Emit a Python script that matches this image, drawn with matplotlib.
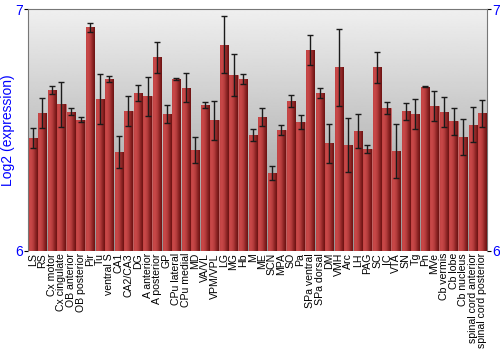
import matplotlib
matplotlib.use("Agg")
import matplotlib.pyplot as plt
import numpy as np

regions = ["LS", "RS", "Cx motor", "Cx cingulate", "OB anterior", "OB posterior",
           "Pir", "Tu", "ventral S", "CA1", "CA2/CA3", "DG", "A anterior",
           "A posterior", "GP", "CPu lateral", "CPu medial", "MD", "VA/VL",
           "VPM/VPL", "LG", "MG", "Hb", "M", "ME", "SCN", "MPA", "SO", "Pa",
           "SPa ventral", "SPa dorsal", "DM", "VMH", "Arc", "LH", "PAG", "SC",
           "IC", "VTA", "SN", "Tg", "Pn", "MVe", "Cb vermis", "Cb lobe",
           "Cb nucleus", "spinal cord anterior", "spinal cord posterior"]

expression = [6.467, 6.570, 6.665, 6.606, 6.576, 6.543, 6.924, 6.628, 6.711,
              6.409, 6.579, 6.652, 6.639, 6.800, 6.565, 6.711, 6.675, 6.416,
              6.602, 6.541, 6.853, 6.726, 6.711, 6.478, 6.554, 6.321, 6.499,
              6.621, 6.534, 6.829, 6.653, 6.445, 6.759, 6.437, 6.496, 6.423,
              6.759, 6.592, 6.413, 6.577, 6.565, 6.678, 6.600, 6.574, 6.537,
              6.470, 6.522, 6.570]

error = [0.043, 0.063, 0.017, 0.094, 0.015, 0.009, 0.019, 0.105, 0.013,
         0.065, 0.063, 0.033, 0.079, 0.064, 0.037, 0.004, 0.061, 0.054,
         0.012, 0.081, 0.119, 0.087, 0.019, 0.025, 0.037, 0.029, 0.020,
         0.025, 0.030, 0.062, 0.021, 0.081, 0.160, 0.112, 0.070, 0.017,
         0.065, 0.025, 0.113, 0.034, 0.062, 0.002, 0.063, 0.063, 0.056,
         0.074, 0.072, 0.056]

fig = plt.figure(figsize=(5, 3.5), dpi=100)
ax = fig.add_axes([0.056, 0.283, 0.918, 0.691])

x = np.arange(len(regions))
ymin, ymax = 6, 7
ax.set_xlim(-0.5, len(regions) - 0.5)
ax.set_ylim(ymin, ymax)

# background gradient, light at the top, darker towards the bottom
bg = np.linspace(0.94, 0.58, 256).reshape(-1, 1)
ax.imshow(bg, cmap="gray", vmin=0, vmax=1, aspect="auto", origin="upper",
          extent=[-0.5, len(regions) - 0.5, ymin, ymax], zorder=0)

# bars with horizontal red shading
bars = ax.bar(x, np.array(expression) - ymin, bottom=ymin, width=0.86,
              color="#b03535", edgecolor="#c86060", linewidth=0.5, zorder=2)
shade = np.array([[0.95, 0.98, 0.92, 0.85, 0.75, 0.6, 0.5]])
cmap = matplotlib.colors.LinearSegmentedColormap.from_list(
    "barred", ["#6a1010", "#cc4a4a"])
for b in bars:
    x0, y0 = b.get_x(), b.get_y()
    im = ax.imshow(shade, cmap=cmap, vmin=0.45, vmax=1.0, aspect="auto",
                   extent=[x0, x0 + b.get_width(), y0, y0 + b.get_height()],
                   zorder=3)
    im.set_clip_path(b)

ax.errorbar(x, expression, yerr=error, fmt="none", ecolor="#1a1a1a",
            elinewidth=1, capsize=2.2, capthick=1, zorder=4)

ax.set_xlim(-0.5, len(regions) - 0.5)
ax.set_ylim(ymin, ymax)

ax.set_xticks(x)
ax.set_xticklabels(regions, rotation=90, fontsize=7.6, family="Liberation Sans")
ax.tick_params(axis="x", length=0, pad=1.5)

ax.set_yticks([6, 7])
ax.set_yticklabels(["6", "7"], color="blue", fontsize=10, family="Liberation Sans")
ax.tick_params(axis="y", length=3, left=True, right=True,
               labelleft=True, labelright=True, pad=0.5)
ax.set_ylabel("Log2 (expression)", color="blue", fontsize=10,
              family="Liberation Sans", labelpad=0)

for side in ["left", "top", "right"]:
    ax.spines[side].set_color("#777777")
ax.spines["bottom"].set_visible(False)

fig.savefig("out.png", dpi=100)
